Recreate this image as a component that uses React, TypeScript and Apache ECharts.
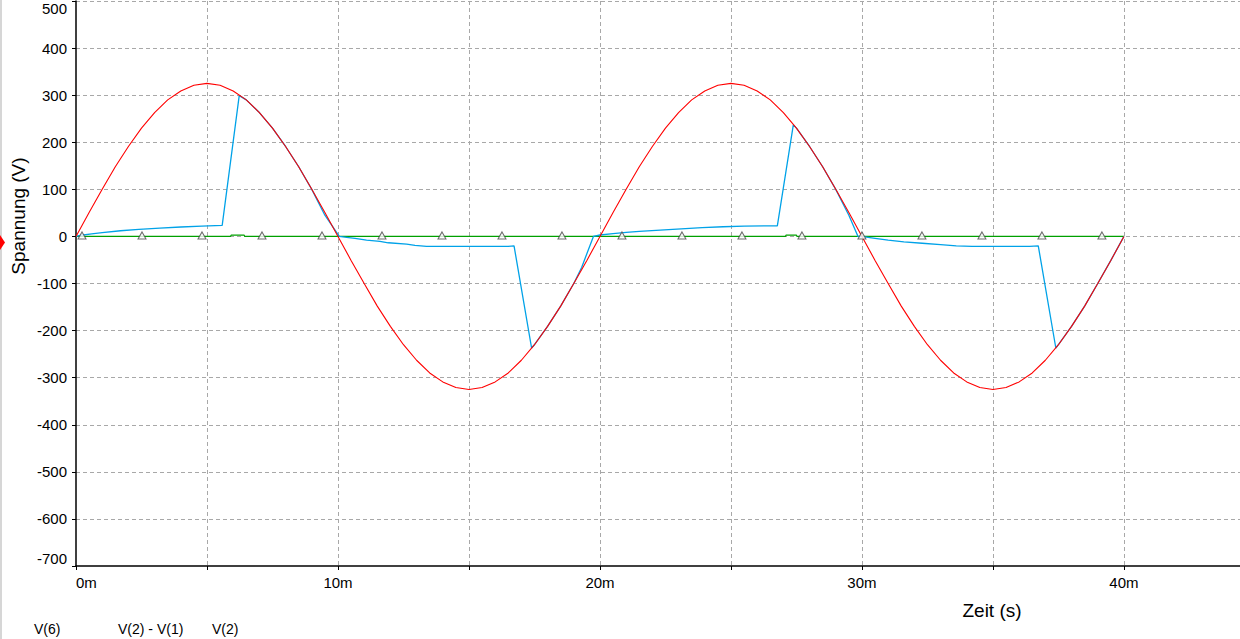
import React, { useEffect, useRef } from "react";
import * as echarts from "echarts";

// Time axis in milliseconds (labels "m")
const redTime = [
  0, 0.5, 1, 1.5, 2, 2.5, 3, 3.5, 4, 4.5, 5, 5.5, 6, 6.5, 7, 7.5, 8, 8.5, 9, 9.5, 10,
  10.5, 11, 11.5, 12, 12.5, 13, 13.5, 14, 14.5, 15, 15.5, 16, 16.5, 17, 17.5, 18, 18.5, 19, 19.5, 20,
  20.5, 21, 21.5, 22, 22.5, 23, 23.5, 24, 24.5, 25, 25.5, 26, 26.5, 27, 27.5, 28, 28.5, 29, 29.5, 30,
  30.5, 31, 31.5, 32, 32.5, 33, 33.5, 34, 34.5, 35, 35.5, 36, 36.5, 37, 37.5, 38, 38.5, 39, 39.5, 40,
];
// V(2)
const redValues = [
  0, 51, 100, 148, 191, 230, 263, 290, 309, 321, 325, 321, 309, 290, 263, 230, 191, 148, 100, 51, 0,
  -51, -100, -148, -191, -230, -263, -290, -309, -321, -325, -321, -309, -290, -263, -230, -191, -148, -100, -51, 0,
  51, 100, 148, 191, 230, 263, 290, 309, 321, 325, 321, 309, 290, 263, 230, 191, 148, 100, 51, 0,
  -51, -100, -148, -191, -230, -263, -290, -309, -321, -325, -321, -309, -290, -263, -230, -191, -148, -100, -51, 0,
];

// V(2) - V(1)
const blueTime = [
  0, 0.2, 0.6, 1.0, 1.7, 2.4, 3.2, 4.0, 4.8, 5.58, 6.23, 6.5, 7.0, 7.5, 8.0, 8.5, 9.0, 9.5, 10.05,
  10.33, 10.65, 11.09, 11.6, 11.92, 12.62, 12.94, 13.38, 16.5, 16.72, 17.39, 17.5, 18.0, 18.5, 19.0, 19.3, 19.75,
  20.0, 20.5, 21.0, 21.5, 22.3, 23.1, 23.9, 24.7, 25.5, 26.77, 27.38, 27.5, 28.0, 28.5, 29.0, 29.5, 29.85,
  30.1, 30.5, 31.0, 31.6, 32.3, 33.0, 33.6, 34.2, 36.4, 36.73, 37.4, 37.5, 38.0, 38.5, 39.0, 39.5, 40.0,
];
const blueValues = [
  0, 2.5, 5.5, 8, 12, 15, 17.5, 20, 22, 23.5, 299, 290, 263, 230, 191, 148, 100, 45, 0,
  -2, -4.3, -7.8, -10.6, -13.5, -16.3, -19, -21, -21, -20, -237, -230, -191, -148, -100, -66, 0,
  3, 6, 8.5, 10.5, 13.5, 16, 18.5, 20.5, 22, 22.5, 237, 230, 191, 148, 100, 45, 0,
  -1, -4, -8, -11.5, -14.5, -17.5, -20, -21.3, -21.3, -20, -237, -230, -191, -148, -100, -51, 0,
];

// V(6)
const greenTime = [0, 5.9, 5.92, 6.42, 6.44, 27.08, 27.1, 27.5, 27.52, 40];
const greenValues = [0, 0, 2.8, 2.8, 0, 0, 2.8, 2.8, 0, 0];

// marker positions on V(6)
const markerTime = [
  0.23, 2.52, 4.81, 7.1, 9.39, 11.68, 13.97, 16.26, 18.55, 20.84, 23.13, 25.42, 27.71, 30.0,
  32.29, 34.58, 36.87, 39.16,
];
const markerValues = markerTime.map(() => 0);

const legendNames = ["V(6)", "V(2) - V(1)", "V(2)"];
const xAxisName = "Zeit (s)";
const yAxisName = "Spannung (V)";

const pairs = (t: number[], v: number[]) => t.map((x, i) => [x, v[i]]);

const FONT = "'Liberation Sans', Arial, sans-serif";

export default function App() {
  const ref = useRef<HTMLDivElement>(null);
  useEffect(() => {
    if (!ref.current) return;
    const chart = echarts.init(ref.current, undefined, { renderer: "svg" });
    const gridLine = { color: "#a8a8a8", width: 1, type: [4, 3] as any };
    const option: any = {
      animation: false,
      backgroundColor: "#ffffff",
      grid: { left: 76, right: 0, top: 1, bottom: 73, containLabel: false, outerBoundsMode: "none" },
      xAxis: {
        type: "value",
        min: 0,
        max: 44.43,
        interval: 5,
        axisLine: { show: true, onZero: false, lineStyle: { color: "#000", width: 1.5 } },
        axisTick: { show: true, length: 4, lineStyle: { color: "#000" } },
        axisLabel: {
          color: "#000",
          fontSize: 15,
          fontFamily: FONT,
          margin: 9,
          showMaxLabel: false,
          alignMinLabel: "left",
          formatter: (v: number) => (Math.abs(v % 10) < 1e-6 && v <= 40 ? `${Math.round(v)}m` : ""),
        },
        splitLine: { show: true, showMinLine: false, showMaxLine: false, lineStyle: gridLine },
      },
      yAxis: {
        type: "value",
        min: -700,
        max: 500,
        interval: 100,
        axisLine: { show: true, onZero: false, lineStyle: { color: "#000", width: 1.5 } },
        axisTick: { show: true, length: 4, lineStyle: { color: "#000" } },
        axisLabel: {
          color: "#000",
          fontSize: 15,
          fontFamily: FONT,
          margin: 9,
          verticalAlignMinLabel: "bottom",
          verticalAlignMaxLabel: "top",
        },
        splitLine: { show: true, showMinLine: false, lineStyle: gridLine },
      },
      series: [
        {
          name: legendNames[0],
          type: "line",
          data: pairs(greenTime, greenValues),
          showSymbol: false,
          symbol: "none",
          lineStyle: { color: "#00a000", width: 1.2 },
          emphasis: { disabled: true },
          z: 2,
        },
        {
          name: legendNames[1],
          type: "line",
          data: pairs(blueTime, blueValues),
          showSymbol: false,
          symbol: "none",
          lineStyle: { color: "#00a2e8", width: 1.3 },
          emphasis: { disabled: true },
          z: 3,
        },
        {
          name: legendNames[2],
          type: "line",
          data: pairs(redTime, redValues),
          showSymbol: false,
          symbol: "none",
          lineStyle: { color: "#ff0000", width: 1.1 },
          emphasis: { disabled: true },
          z: 4,
        },
        {
          type: "scatter",
          data: pairs(markerTime, markerValues),
          symbol: "triangle",
          symbolSize: [8, 7],
          symbolOffset: [0, -1],
          itemStyle: { color: "#ffffff", borderColor: "#4a4a4a", borderWidth: 1 },
          emphasis: { disabled: true },
          silent: true,
          z: 5,
        },
      ],
      graphic: [
        { type: "rect", shape: { x: 0, y: 0, width: 2, height: 639 }, style: { fill: "#d6d6d6" } },
        {
          type: "polygon",
          shape: { points: [[0, 235], [5, 242.5], [0, 250]] },
          style: { fill: "#ff0000" },
        },
        {
          type: "text",
          x: 18,
          y: 216,
          rotation: Math.PI / 2,
          style: {
            text: yAxisName,
            fontSize: 19,
            fontFamily: FONT,
            fill: "#000",
            textAlign: "center",
            textVerticalAlign: "middle",
          },
        },
        {
          type: "text",
          x: 992,
          y: 610,
          style: {
            text: xAxisName,
            fontSize: 19,
            fontFamily: FONT,
            fill: "#000",
            textAlign: "center",
            textVerticalAlign: "middle",
          },
        },
        {
          type: "text",
          x: 34,
          y: 622,
          style: { text: legendNames[0], fontSize: 14, fontFamily: FONT, fill: "#000", textVerticalAlign: "top" },
        },
        {
          type: "text",
          x: 118,
          y: 622,
          style: { text: legendNames[1], fontSize: 14, fontFamily: FONT, fill: "#000", textVerticalAlign: "top" },
        },
        {
          type: "text",
          x: 212,
          y: 622,
          style: { text: legendNames[2], fontSize: 14, fontFamily: FONT, fill: "#000", textVerticalAlign: "top" },
        },
      ],
    };
    chart.setOption(option);
    return () => chart.dispose();
  }, []);
  return (
    <div
      ref={ref}
      style={{ position: "absolute", left: 0, top: 0, width: 1240, height: 639, background: "#fff" }}
    />
  );
}
